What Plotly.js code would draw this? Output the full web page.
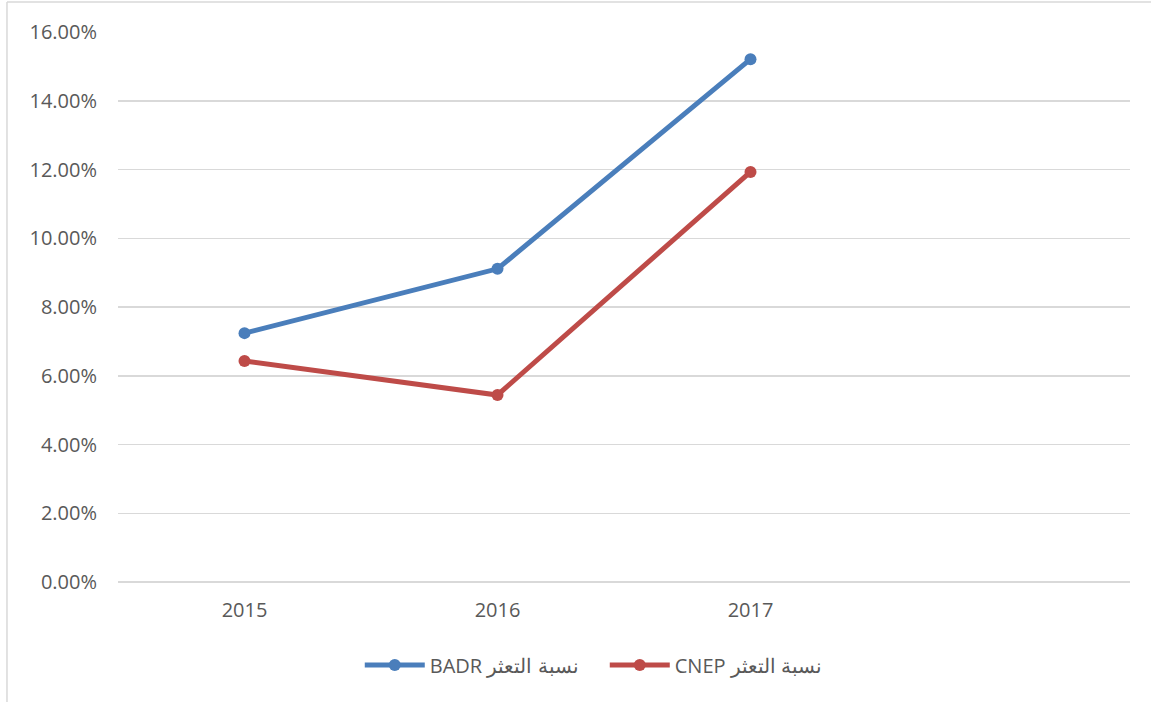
<!DOCTYPE html>
<html>
<head>
<meta charset="utf-8">
<script src="https://cdn.plot.ly/plotly-3.0.1.min.js"></script>
<style>html,body{margin:0;padding:0;background:#fff;}#chart{width:1151px;height:702px;}</style>
</head>
<body>
<div id="chart"></div>
<script>
const years = ['2015', '2016', '2017'];
const badr = [0.0724, 0.0911, 0.1521];
const cnep = [0.0643, 0.0544, 0.1193];
const badrName = 'BADR نسبة التعثر';
const cnepName = 'CNEP نسبة التعثر';
const yTicks = [0, 0.02, 0.04, 0.06, 0.08, 0.10, 0.12, 0.14, 0.16];

const font = {family: 'Open Sans, Noto Sans, sans-serif', size: 20, color: '#595959'};

const traces = [
  {x: years, y: badr, name: badrName, type: 'scatter', mode: 'lines+markers',
   line: {color: '#4a7ebb', width: 5}, marker: {color: '#4a7ebb', size: 12}},
  {x: years, y: cnep, name: cnepName, type: 'scatter', mode: 'lines+markers',
   line: {color: '#be4b48', width: 5}, marker: {color: '#be4b48', size: 12}}
];

const layout = {
  width: 1151, height: 702,
  margin: {l: 118, r: 21, t: 32, b: 120},
  paper_bgcolor: '#ffffff', plot_bgcolor: '#ffffff',
  font: font,
  showlegend: true,
  legend: {orientation: 'h', x: 0.481, xanchor: 'center', y: -0.151, yanchor: 'middle',
           font: font, itemwidth: 60, entrywidth: 170, traceorder: 'normal'},
  xaxis: {type: 'category', categoryorder: 'array', categoryarray: years,
          range: [-0.5, 3.5], showgrid: false, zeroline: false, showline: false,
          ticks: '', ticklabelstandoff: 14, tickfont: font, fixedrange: true},
  yaxis: {range: [0, 0.16], tickvals: yTicks, tickformat: '.2%', showgrid: true,
          gridcolor: '#d9d9d9', gridwidth: 1.5, zeroline: true, zerolinecolor: '#d9d9d9',
          zerolinewidth: 1.5, showline: false, ticks: '', ticklabelstandoff: 20,
          tickfont: font, fixedrange: true},
  shapes: [
    {type: 'line', xref: 'paper', yref: 'paper', x0: -0.1097, x1: 1.2, y0: 1.0545, y1: 1.0545,
     line: {color: '#d9d9d9', width: 1.5}},
    {type: 'line', xref: 'paper', yref: 'paper', x0: -0.1097, x1: -0.1097, y0: 1.0545, y1: -0.3,
     line: {color: '#d9d9d9', width: 1.5}}
  ]
};

Plotly.newPlot('chart', traces, layout, {displayModeBar: false, staticPlot: true});
</script>
</body>
</html>
